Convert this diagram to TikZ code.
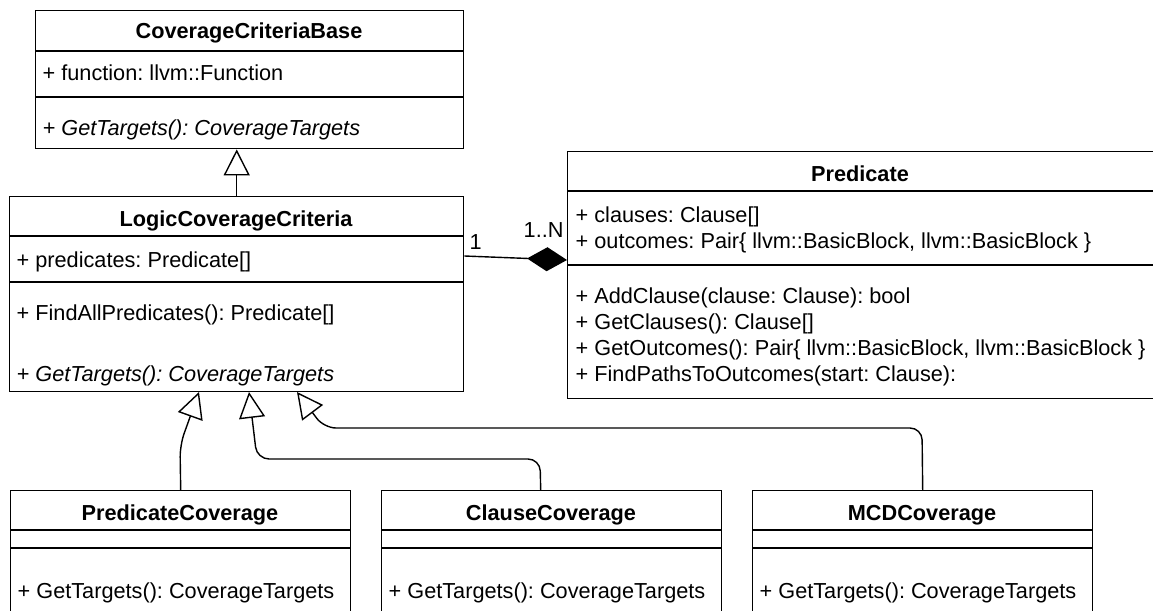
\documentclass[tikz,border=0pt]{standalone}
\usepackage{fontspec}
\setmainfont{Liberation Sans}
\usetikzlibrary{arrows.meta}
\frenchspacing

\begin{document}
\begin{tikzpicture}[x=1pt, y=-1pt, line width=1.4pt,
    box/.style={draw, anchor=north west, inner sep=0pt},
    txt/.style={anchor=base west, inner sep=0pt, font=\fontsize{21.7}{26}\selectfont},
    title/.style={anchor=base, inner sep=0pt, font=\fontsize{21.7}{26}\selectfont\bfseries},
    inherit/.style={-{Triangle[open, length=26pt, width=26pt]}, rounded corners=12pt}]
    \useasboundingbox (0,0) rectangle (1153,610);
    \clip (0,0) rectangle (1153,610);

    % abstract base
    \node[box, minimum width=428pt, minimum height=138pt] (base) at (35,10) {};
    \draw (35,51) -- (463,51);
    \draw (35,97) -- (463,97);
    \node[title] (base-title) at (249,39) {CoverageCriteriaBase};
    \node[txt] (base-attr) at (42,80) {+ function: llvm::Function};
    \node[txt] (base-op) at (42,135) {\itshape + GetTargets(): CoverageTargets};

    % logic criteria
    \node[box, minimum width=454pt, minimum height=195pt] (logic) at (9,196) {};
    \draw (9,236) -- (463,236);
    \draw (9,282) -- (463,282);
    \node[title] (logic-title) at (236,226) {LogicCoverageCriteria};
    \node[txt] (logic-attr) at (16,267) {+ predicates: Predicate[]};
    \node[txt] (logic-op1) at (16,320) {+ FindAllPredicates(): Predicate[]};
    \node[txt] (logic-op2) at (16,381) {\itshape + GetTargets(): CoverageTargets};

    % predicate
    \node[box, minimum width=589pt, minimum height=247pt] (pred) at (567,151) {};
    \draw (567,191) -- (1156,191);
    \draw (567,265) -- (1156,265);
    \node[title] (pred-title) at (860,181) {Predicate};
    \node[txt] (pred-attr1) at (575,222) {+ clauses: Clause[]};
    \node[txt] (pred-attr2) at (575,248) {+ outcomes: Pair\{ llvm::BasicBlock, llvm::BasicBlock \}};
    \node[txt] (pred-op1) at (575,303) {+ AddClause(clause: Clause): bool};
    \node[txt] (pred-op2) at (575,329) {+ GetClauses(): Clause[]};
    \node[txt] (pred-op3) at (575,355) {+ GetOutcomes(): Pair\{ llvm::BasicBlock, llvm::BasicBlock \}};
    \node[txt] (pred-op4) at (575,381) {+ FindPathsToOutcomes(start: Clause):};

    % concrete criteria
    \foreach \x/\nm/\ttl in {10/pcov/PredicateCoverage, 381/ccov/ClauseCoverage, 752/mcov/MCDCoverage} {
        \node[box, minimum width=340pt, minimum height=150pt] (\nm) at (\x,490) {};
        \draw (\x,530) -- ++(340,0);
        \draw (\x,548) -- ++(340,0);
        \node[title] (\nm-title) at (\x+170,520) {\ttl};
        \node[txt] (\nm-op) at (\x+7,598) {+ GetTargets(): CoverageTargets};
    }

    \coordinate (tip1) at (199,392);
    \coordinate (tip2) at (249,392);
    \coordinate (tip3) at (297,392);

    \draw[inherit] (logic.north) -- (logic.north |- base.south);
    \draw[inherit] (pcov.north) -- (180,445) -- (tip1);
    \draw[inherit] ([xshift=-11pt]ccov.north) -- (540,459) -- (257,459) -- (tip2);
    \draw[inherit] (mcov.north) -- (922,428) -- (324,428) -- (tip3);

    \draw[-{Diamond[length=40pt, width=24pt]}] (logic.east |- 0,256) -- (pred.west |- 0,260);
    \node[txt] (one) at (469,249) {1};
    \node[txt] (many) at (523,237) {1..N};
\end{tikzpicture}
\end{document}
